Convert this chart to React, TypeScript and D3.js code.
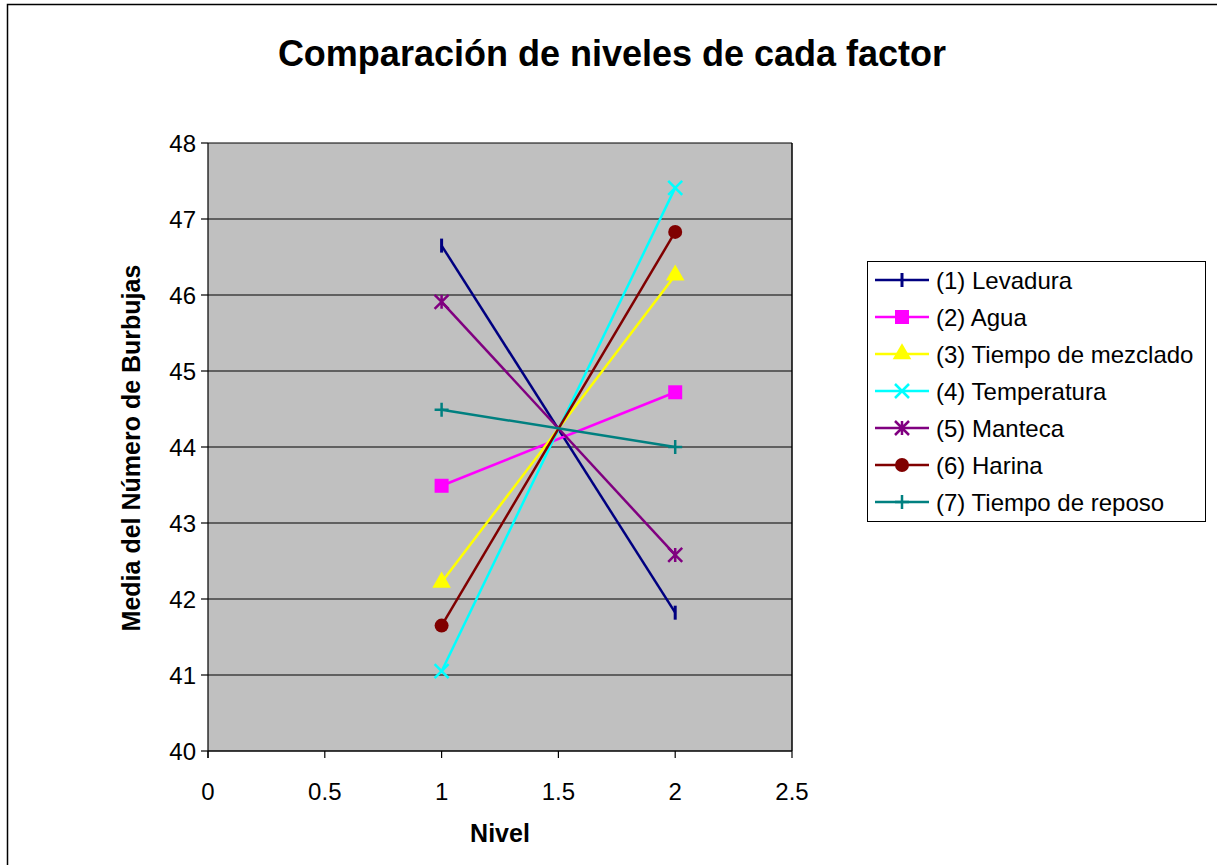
import React from "react";
import * as d3 from "d3";

const levels = [1, 2];
const seriesNames = [
  "(1) Levadura",
  "(2) Agua",
  "(3) Tiempo de mezclado",
  "(4) Temperatura",
  "(5) Manteca",
  "(6) Harina",
  "(7) Tiempo de reposo",
];
const levadura = [46.65, 41.82];
const agua = [43.49, 44.72];
const mezclado = [42.22, 46.26];
const temperatura = [41.05, 47.41];
const manteca = [45.91, 42.58];
const harina = [41.65, 46.83];
const reposo = [44.49, 44.0];
const seriesValues = [levadura, agua, mezclado, temperatura, manteca, harina, reposo];
const seriesColors = ["#000080", "#FF00FF", "#FFFF00", "#00FFFF", "#800080", "#800000", "#008080"];
const seriesMarkers = ["bar", "square", "triangle", "x", "star", "circle", "plus"];
const xTicks = [0, 0.5, 1, 1.5, 2, 2.5];
const yTicks = [40, 41, 42, 43, 44, 45, 46, 47, 48];

const W = 1217;
const H = 865;
const plot = { left: 208, right: 792, top: 143, bottom: 751 };

function Marker({ type, x, y, color }: { type: string; x: number; y: number; color: string }) {
  const s = 7;
  if (type === "square") {
    return <rect x={x - s} y={y - s} width={2 * s} height={2 * s} fill={color} />;
  }
  if (type === "circle") {
    return <circle cx={x} cy={y} r={s} fill={color} />;
  }
  if (type === "triangle") {
    const p = d3.symbol().type(d3.symbolTriangle).size(150)();
    return <path d={p || ""} transform={`translate(${x},${y})`} fill={color} />;
  }
  if (type === "x") {
    return (
      <path
        d={`M${x - s},${y - s}L${x + s},${y + s}M${x - s},${y + s}L${x + s},${y - s}`}
        stroke={color}
        strokeWidth={2.5}
      />
    );
  }
  if (type === "star") {
    return (
      <path
        d={`M${x - s},${y - s}L${x + s},${y + s}M${x - s},${y + s}L${x + s},${y - s}M${x},${y - s}L${x},${y + s}`}
        stroke={color}
        strokeWidth={2.5}
      />
    );
  }
  if (type === "plus") {
    return (
      <path
        d={`M${x - s},${y}L${x + s},${y}M${x},${y - s}L${x},${y + s}`}
        stroke={color}
        strokeWidth={2.5}
      />
    );
  }
  // bar
  return <path d={`M${x},${y - s}L${x},${y + s}`} stroke={color} strokeWidth={3} />;
}

export default function App() {
  const x = d3.scaleLinear().domain([0, 2.5]).range([plot.left, plot.right]);
  const y = d3.scaleLinear().domain([40, 48]).range([plot.bottom, plot.top]);
  const line = d3
    .line<number>()
    .x((_, i) => x(levels[i]))
    .y((d) => y(d));

  const font = "Arial, 'Liberation Sans', sans-serif";
  const legend = { x: 867, y: 261, w: 338, h: 260, row: 37, first: 280 };

  return (
    <svg
      width={W}
      height={H}
      style={{ position: "absolute", left: 0, top: 0, background: "#fff" }}
      fontFamily={font}
    >
      <rect x={7.5} y={4.5} width={W + 10} height={H + 10} fill="#fff" stroke="#000" strokeWidth={1.5} />
      <text x={612} y={66} textAnchor="middle" fontSize={36} fontWeight="bold">
        Comparación de niveles de cada factor
      </text>

      <rect
        x={plot.left}
        y={plot.top}
        width={plot.right - plot.left}
        height={plot.bottom - plot.top}
        fill="#C0C0C0"
      />
      {yTicks.map((t) => (
        <line key={"g" + t} x1={plot.left} x2={plot.right} y1={y(t)} y2={y(t)} stroke="#000" strokeWidth={1.2} />
      ))}
      <line x1={plot.right} x2={plot.right} y1={plot.top} y2={plot.bottom} stroke="#000" strokeWidth={1.5} />
      <line x1={plot.left} x2={plot.left} y1={plot.top} y2={plot.bottom + 7} stroke="#000" strokeWidth={1.2} />
      <line x1={plot.left} x2={plot.right} y1={plot.bottom} y2={plot.bottom} stroke="#000" strokeWidth={1.2} />
      {yTicks.map((t) => (
        <g key={"y" + t}>
          <line x1={plot.left - 7} x2={plot.left} y1={y(t)} y2={y(t)} stroke="#000" strokeWidth={1.2} />
          <text x={196} y={y(t) + 8.5} textAnchor="end" fontSize={24}>
            {t}
          </text>
        </g>
      ))}
      {xTicks.map((t) => (
        <g key={"x" + t}>
          <line x1={x(t)} x2={x(t)} y1={plot.bottom} y2={plot.bottom + 7} stroke="#000" strokeWidth={1.2} />
          <text x={x(t)} y={800} textAnchor="middle" fontSize={24}>
            {t}
          </text>
        </g>
      ))}
      <text x={500} y={842} textAnchor="middle" fontSize={25} fontWeight="bold">
        Nivel
      </text>
      <text
        transform={`translate(140,448) rotate(-90)`}
        textAnchor="middle"
        fontSize={25}
        fontWeight="bold"
      >
        Media del Número de Burbujas
      </text>

      {seriesValues.map((vals, si) => (
        <g key={"s" + si}>
          <path d={line(vals) || ""} fill="none" stroke={seriesColors[si]} strokeWidth={2.5} />
          {vals.map((v, i) => (
            <Marker key={i} type={seriesMarkers[si]} x={x(levels[i])} y={y(v)} color={seriesColors[si]} />
          ))}
        </g>
      ))}

      <rect x={legend.x + 0.5} y={legend.y + 0.5} width={legend.w} height={legend.h} fill="#fff" stroke="#000" strokeWidth={1} />
      {seriesNames.map((name, i) => {
        const cy = legend.first + i * legend.row;
        return (
          <g key={"l" + i}>
            <line x1={875} x2={929} y1={cy} y2={cy} stroke={seriesColors[i]} strokeWidth={2.5} />
            <Marker type={seriesMarkers[i]} x={902} y={cy} color={seriesColors[i]} />
            <text x={936} y={cy + 8.5} fontSize={24}>
              {name}
            </text>
          </g>
        );
      })}
    </svg>
  );
}
